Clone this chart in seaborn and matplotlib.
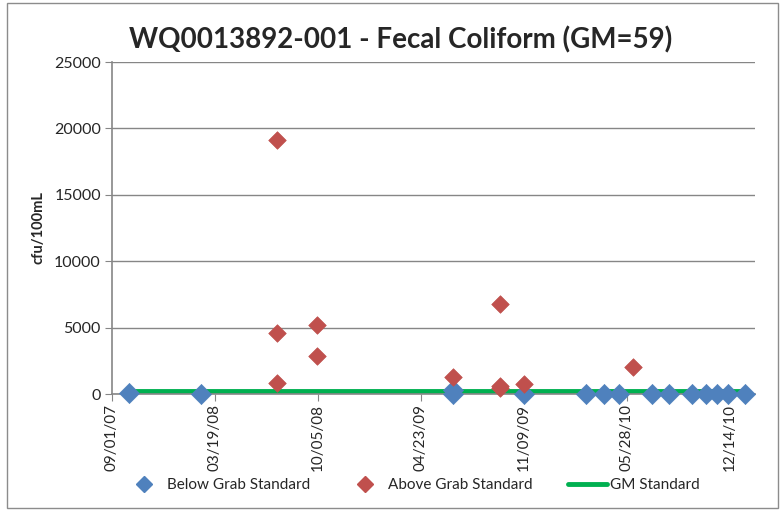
import pandas as pd
import numpy as np
import seaborn as sns
import matplotlib.pyplot as plt
import matplotlib.dates as mdates
from matplotlib.patches import Rectangle
from matplotlib.lines import Line2D

# sample dates and results
below_dates = ['2007-10-04', '2008-02-21', '2009-06-24', '2009-06-24', '2009-11-09',
               '2010-03-09', '2010-04-13', '2010-05-12', '2010-07-15', '2010-08-17',
               '2010-10-01', '2010-10-28', '2010-11-19', '2010-12-10', '2011-01-12']
below_vals = [40, 20, 300, 30, 10, 30, 20, 20, 20, 20, 20, 20, 20, 20, 20]

above_dates = ['2008-07-17', '2008-07-17', '2008-07-17', '2008-10-03', '2008-10-03',
               '2009-06-24', '2009-09-23', '2009-09-23', '2009-09-23', '2009-11-09',
               '2010-06-09']
above_vals = [19100, 4600, 850, 5200, 2850, 1250, 6800, 600, 450, 750, 2000]

gm_standard = 200
tick_dates = ['2007-09-01', '2008-03-19', '2008-10-05', '2009-04-23',
              '2009-11-09', '2010-05-28', '2010-12-14']

below = pd.DataFrame({'date': pd.to_datetime(below_dates), 'value': below_vals})
above = pd.DataFrame({'date': pd.to_datetime(above_dates), 'value': above_vals})
gm = pd.DataFrame({'date': [below['date'].min(), below['date'].max()],
                   'value': [gm_standard, gm_standard]})

sns.set_style('white')
plt.rcParams['font.family'] = ['Lato', 'DejaVu Sans']

blue = '#4F81BD'
red = '#C0504D'
green = '#00B050'
grid = '#868686'

fig = plt.figure(figsize=(7.84, 5.11), dpi=100)
fig.patches.append(Rectangle((7 / 784, 3 / 511), 771 / 784, 505 / 511, transform=fig.transFigure,
                             fill=False, edgecolor='#8c8c8c', linewidth=1.0))
ax = fig.add_axes([112 / 784, 117 / 511, 643 / 784, 332 / 511])

sns.lineplot(data=gm, x='date', y='value', color=green, linewidth=3.5, ax=ax, zorder=2)
sns.scatterplot(data=below, x='date', y='value', marker='D', s=105, color=blue,
                edgecolor=blue, linewidth=0.5, ax=ax, zorder=3, clip_on=False)
sns.scatterplot(data=above, x='date', y='value', marker='D', s=80, color=red,
                edgecolor=red, linewidth=0.5, ax=ax, zorder=4, clip_on=False)

ax.set_xlim(pd.Timestamp('2007-09-01'), pd.Timestamp('2011-02-01'))
ax.set_ylim(0, 25000)
ax.set_yticks(np.arange(0, 25001, 5000))
ax.set_xticks(pd.to_datetime(tick_dates))
ax.xaxis.set_major_formatter(mdates.DateFormatter('%m/%d/%y'))
ax.tick_params(axis='x', rotation=90, labelsize=11, length=5, color=grid, pad=2, direction='out')
ax.tick_params(axis='y', labelsize=11.5, length=5, color=grid, pad=3, direction='out')
ax.tick_params(bottom=True, left=True)
ax.yaxis.grid(True, color=grid, linewidth=1.0)
ax.set_axisbelow(True)
for side in ['top', 'right']:
    ax.spines[side].set_visible(False)
for side in ['left', 'bottom']:
    ax.spines[side].set_color(grid)
    ax.spines[side].set_linewidth(1.2)

ax.set_xlabel('')
ax.set_ylabel('cfu/100mL', fontsize=10.5, fontweight='bold', labelpad=6)
fig.text(401 / 784, 1 - 40 / 511, 'WQ0013892-001 - Fecal Coliform (GM=59)',
         ha='center', va='center', fontsize=20, fontweight='bold')

handles = [Line2D([], [], marker='D', color=blue, linestyle='none', markersize=8),
           Line2D([], [], marker='D', color=red, linestyle='none', markersize=8),
           Line2D([], [], color=green, linewidth=3.5)]
fig.legend(handles, ['Below Grab Standard', 'Above Grab Standard', 'GM Standard'],
           loc='center', bbox_to_anchor=(412 / 784, 26 / 511), ncol=3, frameon=False,
           fontsize=11, handlelength=2.6, columnspacing=2.3, handletextpad=0.2)

fig.savefig('out.png', dpi=100)
